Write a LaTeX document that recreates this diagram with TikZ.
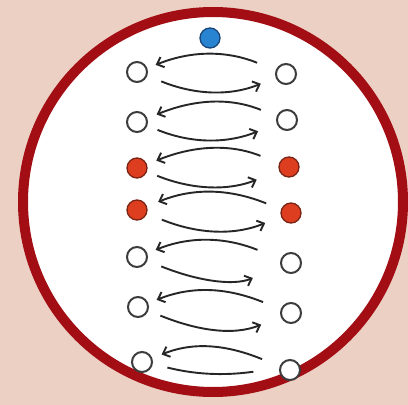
\documentclass[tikz,border=0pt]{standalone}
\usetikzlibrary{arrows.meta}
\definecolor{bgpink}{RGB}{236,208,196}
\definecolor{ringred}{RGB}{163,14,20}
\definecolor{nodered}{RGB}{222,62,32}
\definecolor{noderededge}{RGB}{120,35,20}
\definecolor{nodeblue}{RGB}{40,132,208}
\definecolor{nodeblueedge}{RGB}{25,70,120}
\definecolor{opengray}{RGB}{60,60,60}
\begin{document}
\begin{tikzpicture}[x=1pt,y=-1pt,
  dot/.style={circle,inner sep=0pt,minimum size=20pt,line width=2pt},
  opendot/.style={dot,draw=opengray,fill=white},
  reddot/.style={dot,draw=noderededge,fill=nodered,line width=1.3pt},
  bluedot/.style={dot,draw=nodeblueedge,fill=nodeblue,line width=1.3pt},
  arr/.style={line width=1.9pt,draw=black!85,-{Straight Barb[length=6pt,width=11pt]}},
  plainarr/.style={line width=1.9pt,draw=black!85}]
\fill[bgpink] (0,0) rectangle (408,405);
\useasboundingbox (0,0) rectangle (408,405);
\draw[ringred,line width=10pt,fill=white] (213,202) circle[radius=190pt];

\node[bluedot] (top) at (210,38) {};
\node[opendot] (l1) at (137,72) {};  \node[opendot] (r1) at (286,74) {};
\node[opendot] (l2) at (137,122) {}; \node[opendot] (r2) at (287,120) {};
\node[reddot]  (l3) at (137,168) {}; \node[reddot]  (r3) at (289,167) {};
\node[reddot]  (l4) at (137,210) {}; \node[reddot]  (r4) at (291,213) {};
\node[opendot] (l5) at (137,257) {}; \node[opendot] (r5) at (291,263) {};
\node[opendot] (l6) at (138,307) {}; \node[opendot] (r6) at (291,313) {};
\node[opendot] (l7) at (142,362) {}; \node[opendot] (r7) at (290,370) {};

\foreach \i/\us/\ue/\ls/\le in {1/20/9/15/16, 2/17/10/11/20, 3/20/10/11/24,
                               4/16/12/16/17, 5/25/9/15/30, 6/19/9/13/21}{
  \draw[arr,shorten <=\us pt,shorten >=\ue pt] (r\i.160) to[out=158,in=22] (l\i.20);
  \draw[arr,shorten <=\ls pt,shorten >=\le pt] (l\i.-20) to[out=-22,in=-158] (r\i.-160);
}
\draw[arr,shorten <=19pt,shorten >=10pt] (r7.160) to[out=158,in=22] (l7.20);
\draw[plainarr,shorten <=15pt,shorten >=26pt] (l7.-10) to[out=-14,in=-172] (r7.170);
\end{tikzpicture}
\end{document}
